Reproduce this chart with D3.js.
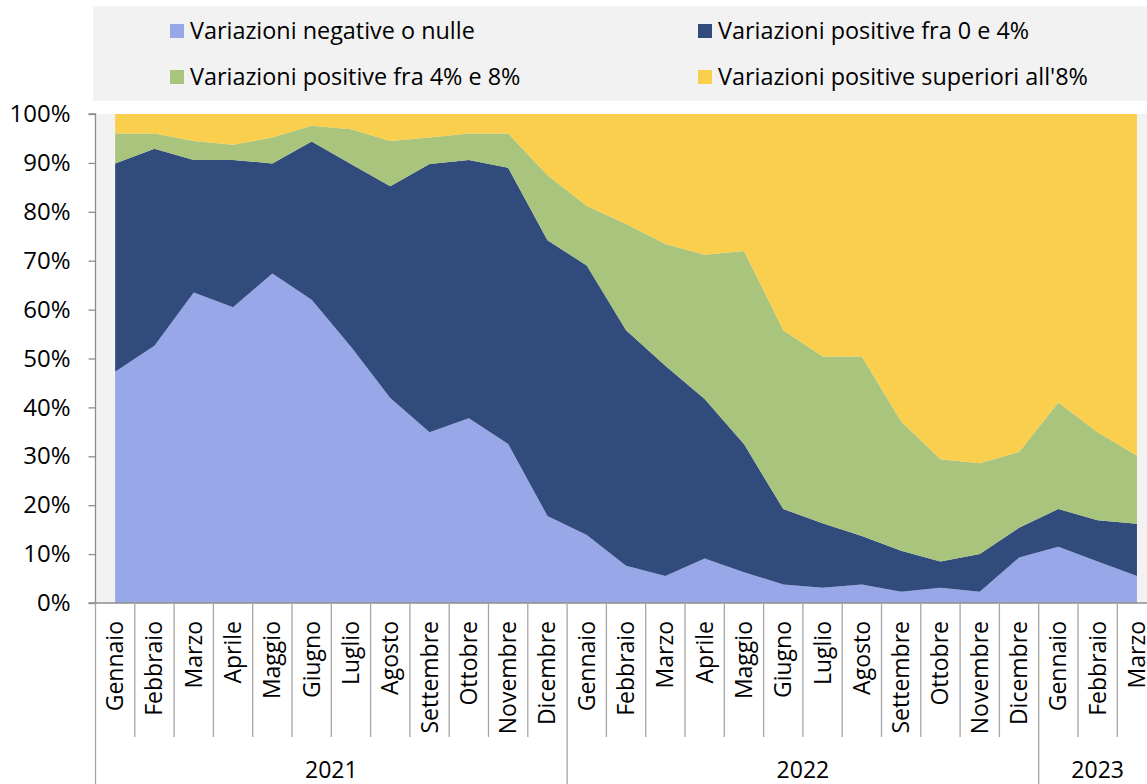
<!DOCTYPE html>
<html>
<head>
<meta charset="utf-8">
<script src="https://cdn.jsdelivr.net/npm/d3@7"></script>
<style>
  html, body { margin: 0; padding: 0; background: #ffffff; }
  svg { display: block; font-family: "Open Sans", sans-serif; }
</style>
</head>
<body>
<svg id="chart" width="1147" height="784"></svg>
<script>
// ---- data ----
const months = ["Gennaio","Febbraio","Marzo","Aprile","Maggio","Giugno","Luglio","Agosto","Settembre","Ottobre","Novembre","Dicembre",
                "Gennaio","Febbraio","Marzo","Aprile","Maggio","Giugno","Luglio","Agosto","Settembre","Ottobre","Novembre","Dicembre",
                "Gennaio","Febbraio","Marzo"];
const years = ["2021","2022","2023"];
const yearStart = [0, 12, 24];
const yearEnd = [12, 24, 27];
const seriesNames = ["Variazioni negative o nulle","Variazioni positive fra 0 e 4%","Variazioni positive fra 4% e 8%","Variazioni positive superiori all'8%"];
const negative = [47.3,52.6,63.5,60.5,67.4,62.0,52.4,41.9,34.9,37.8,32.5,17.8,13.9,7.6,5.5,9.1,6.3,3.8,3.1,3.8,2.3,3.1,2.3,9.3,11.5,8.5,5.5];
const pos0to4 = [42.6,40.3,27.1,30.1,22.5,32.4,37.4,43.3,54.9,52.8,56.5,56.4,55.1,48.2,43.0,32.6,26.2,15.4,13.2,9.9,8.4,5.4,7.7,6.1,7.7,8.4,10.7];
const pos4to8 = [6.1,3.1,3.9,3.1,5.3,3.2,7.1,9.3,5.4,5.4,7.0,13.3,12.2,21.7,24.9,29.5,39.5,36.6,34.1,36.7,26.4,20.9,18.6,15.5,21.8,18.0,13.9];
const above8 = [4.0,4.0,5.5,6.3,4.8,2.4,3.1,5.5,4.8,4.0,4.0,12.5,18.8,22.5,26.6,28.8,28.0,44.2,49.6,49.6,62.9,70.6,71.4,69.1,59.0,65.1,69.9];
const yTicks = [0,10,20,30,40,50,60,70,80,90,100];
const colors = ["#98a7e8","#314c7c","#a9c47d","#f9cf4d"];

// ---- build table ----
const keys = ["s0","s1","s2","s3"];
const table = months.map((m, i) => ({ i, s0: negative[i], s1: pos0to4[i], s2: pos4to8[i], s3: above8[i] }));
const stacked = d3.stack().keys(keys)(table);

const svg = d3.select("#chart");
const W = 1147, H = 784;
const pLeft = 95.5, pTop = 114, pBottom = 603, step = 39.3;

const x = d3.scaleBand().domain(d3.range(months.length)).range([pLeft, pLeft + step * months.length]).padding(0);
const cx = i => x(i) + x.bandwidth() / 2;
const y = d3.scaleLinear().domain([0, 100]).range([pBottom, pTop]);
const xEnd = pLeft + step * months.length;
const xAt = i => i < months.length ? x(i) : xEnd;

// legend background
svg.append("rect").attr("x", 93).attr("y", 6).attr("width", W - 93).attr("height", 95).attr("fill", "#f2f2f2");
// plot background
svg.append("rect").attr("x", pLeft).attr("y", pTop).attr("width", W - pLeft).attr("height", pBottom - pTop).attr("fill", "#f2f2f2");

// areas
const area = d3.area().x(d => cx(d.data.i)).y0(d => y(d[0])).y1(d => y(d[1]));
svg.append("g").selectAll("path").data(stacked).join("path")
  .attr("d", area).attr("fill", (d, k) => colors[k]);

// y axis
const yAxis = d3.axisLeft(y).tickValues(yTicks).tickSize(7).tickPadding(18).tickFormat(d => d + "%");
const gy = svg.append("g").attr("transform", `translate(${pLeft},0)`).call(yAxis);
gy.select(".domain").attr("stroke", "#8c8c8c").attr("stroke-width", 1.3).attr("d", `M-7,${pTop}H0V${pBottom}`);
gy.selectAll(".tick line").attr("stroke", "#8c8c8c").attr("stroke-width", 1.3);
gy.selectAll(".tick text").attr("font-size", 24).attr("fill", "#000").attr("font-family", "Open Sans, sans-serif");

// x axis line
svg.append("line").attr("x1", pLeft - 7).attr("x2", W).attr("y1", pBottom).attr("y2", pBottom)
  .attr("stroke", "#8c8c8c").attr("stroke-width", 1.3);

// month dividers
const divs = d3.range(1, months.length + 1).filter(i => !yearStart.includes(i) && i !== months.length);
svg.append("g").selectAll("line").data(divs).join("line")
  .attr("x1", xAt).attr("x2", xAt)
  .attr("y1", pBottom).attr("y2", 737)
  .attr("stroke", "#a6a6a6").attr("stroke-width", 1.3);

// year dividers
const ydivs = yearStart.concat([months.length]);
svg.append("g").selectAll("line").data(ydivs).join("line")
  .attr("x1", xAt).attr("x2", xAt)
  .attr("y1", pBottom).attr("y2", H)
  .attr("stroke", "#a6a6a6").attr("stroke-width", 1.3);

// month labels
svg.append("g").selectAll("text").data(months).join("text")
  .attr("transform", (d, i) => `translate(${cx(i) + 8},621) rotate(-90)`)
  .attr("text-anchor", "end").attr("font-size", 23).attr("fill", "#000")
  .text(d => d);

// year labels
svg.append("g").selectAll("text").data(years).join("text")
  .attr("x", (d, k) => (x(yearStart[k]) + xAt(yearEnd[k])) / 2)
  .attr("y", 778).attr("text-anchor", "middle").attr("font-size", 23).attr("fill", "#000")
  .text(d => d);

// legend
const legPos = [[170, 31], [698, 31], [170, 77], [698, 77]];
const lg = svg.append("g").selectAll("g").data(seriesNames).join("g")
  .attr("transform", (d, k) => `translate(${legPos[k][0]},${legPos[k][1]})`);
lg.append("rect").attr("x", 0).attr("y", -7).attr("width", 14).attr("height", 14).attr("fill", (d, k) => colors[k]);
lg.append("text").attr("x", 20).attr("y", 0).attr("dy", "0.35em").attr("font-size", 23.4).attr("fill", "#000").text(d => d);
</script>
</body>
</html>
